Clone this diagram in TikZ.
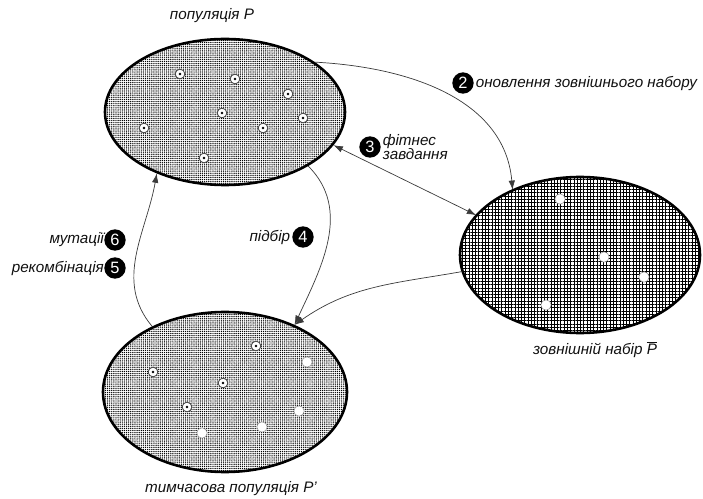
\documentclass[tikz,border=0pt]{standalone}
\usepackage{fontspec}
\setmainfont{Liberation Sans}
\usetikzlibrary{
    shapes.geometric,
    arrows.meta,
    positioning,
    patterns.meta
}
\definecolor{ink}{HTML}{111111}
\definecolor{wire}{HTML}{3A3A3A}
\tikzset{
    % Population set style (fine dotted fill)
    popset/.style={
        ellipse,
        inner sep=0pt,
        draw=black,
        line width=2.2pt,
        pattern={Dots[distance=1.8pt, radius=0.62pt]},
        pattern color=black
    },
    % External set style (grid fill)
    extset/.style={
        ellipse,
        inner sep=0pt,
        draw=black,
        line width=2.2pt,
        pattern={Hatch[distance=2.8pt, line width=0.85pt]},
        pattern color=black
    },
    % Individual with centre dot
    indiv/.style={
        circle,
        minimum size=0.29cm,
        inner sep=0pt,
        draw=black!75,
        line width=0.7pt,
        fill=white,
        path picture={\fill[black] (path picture bounding box.center) circle (1.2pt);}
    },
    % Plain white individual
    elite/.style={
        circle,
        minimum size=0.31cm,
        inner sep=0pt,
        draw=black!45,
        line width=0.4pt,
        fill=white
    },
    % Step number badge
    badge/.style={
        circle,
        minimum size=0.64cm,
        inner sep=0pt,
        fill=black,
        text=white,
        font=\fontsize{14}{16}\selectfont
    },
    % Arrow styles
    flow/.style={
        -{Latex[length=8pt, width=5.5pt]},
        line width=0.6pt,
        color=wire
    },
    dualflow/.style={
        {Latex[length=8pt, width=5.5pt]}-{Latex[length=8pt, width=5.5pt]},
        line width=0.6pt,
        color=wire
    },
    % Label style
    label text/.style={
        font=\itshape\fontsize{13}{14.5}\selectfont,
        text=ink,
        inner sep=1.5pt
    }
}

\begin{document}
\begin{tikzpicture}[x=0.03cm, y=0.03cm]
    \useasboundingbox (0,0) rectangle (703,498);

    % Sets
    \node[popset, minimum width=7.2cm, minimum height=4.38cm] (pop) at (225,386) {};
    \node[popset, minimum width=7.32cm, minimum height=4.8cm] (tmp) at (225,106) {};
    \node[extset, minimum width=7.2cm, minimum height=4.68cm] (ext) at (580,243) {};

    % Set titles
    \node[label text] (popname) at (212,482) {популяція P};
    \node[label text] (tmpname) at (231,9) {тимчасова популяція P'};
    \node[label text] (extname) at (595,148) {зовнішній набір $\overline{\mbox{\itshape P}}$};

    % Individuals
    \foreach \x/\y [count=\i] in {180/424, 235/419, 288/404, 222/385, 303/380, 144/370, 263/370, 204/340}
        \node[indiv] (pi\i) at (\x,\y) {};
    \foreach \x/\y [count=\i] in {256/152, 153/126, 223/115, 187/91}
        \node[indiv] (ti\i) at (\x,\y) {};
    \foreach \x/\y [count=\i] in {307/136, 299/87, 262/71, 202/65}
        \node[elite] (te\i) at (\x,\y) {};
    \foreach \x/\y [count=\i] in {560/299, 604/241, 644/221, 546/193}
        \node[elite] (ee\i) at (\x,\y) {};

    % Step badges and labels
    \node[badge] (b2) at (463,415) {2};
    \node[label text, anchor=west] (t2) at (b2.east) {оновлення зовнішнього набору};
    \node[badge] (b3) at (370,351) {3};
    \node[label text, anchor=west, align=left] (t3) at (b3.east) {фітнес\\[-2pt]завдання};
    \node[badge] (b4) at (303,261) {4};
    \node[label text, anchor=east] (t4) at (b4.west) {підбір};
    \node[badge] (b6) at (115,258) {6};
    \node[label text, anchor=east, inner sep=0pt] (t6) at (b6.west) {мутації};
    \node[badge] (b5) at (115,230) {5};
    \node[label text, anchor=east, inner sep=0pt] (t5) at (b5.west) {рекомбінація};

    % Connections
    \draw[flow] (pop.29) to[out=-3, in=95] (ext.136);
    \draw[dualflow] (pop.-17) -- (ext.159);
    \draw[flow] (pop.-33) to[out=-45, in=65] (tmp.44);
    \draw[flow] (ext.188) to[out=190, in=35] (tmp.44);
    \draw[flow] (tmp.138) to[out=130, in=-100] (pop.222);

\end{tikzpicture}
\end{document}
